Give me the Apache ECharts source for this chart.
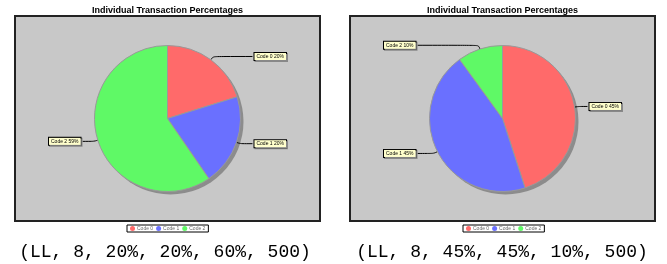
<!DOCTYPE html>
<html>
<head>
<meta charset="utf-8">
<style>
  html, body { margin: 0; padding: 0; background: #fff; }
  #main { width: 667px; height: 264px; }
</style>
<script src="https://cdn.jsdelivr.net/npm/echarts@6/dist/echarts.min.js"></script>
</head>
<body>
<div id="main"></div>
<script>
// slice names and percentages as printed on the labels
const codes = ['Code 0', 'Code 1', 'Code 2'];
const leftValues = [20, 20, 59];
const rightValues = [45, 45, 10];
const chartTitle = 'Individual Transaction Percentages';
const leftCaption = '(LL, 8, 20%, 20%, 60%, 500)';
const rightCaption = '(LL, 8, 45%, 45%, 10%, 500)';

const colors = ['#ff6a6a', '#6a70ff', '#5ff966'];
const boxes = [
  { left: 15, top: 16, width: 305, height: 205 },
  { left: 350, top: 16, width: 305, height: 205 }
];

function toData(values) {
  return values.map(function (v, i) {
    return { name: codes[i], value: v };
  });
}

function pieSeries(values, box) {
  return {
    type: 'pie',
    left: box.left, top: box.top, width: box.width, height: box.height,
    center: ['50%', '50%'],
    radius: 73,
    startAngle: 90,
    clockwise: true,
    animation: false,
    z: 3,
    data: toData(values),
    itemStyle: { borderColor: '#999', borderWidth: 1 },
    label: {
      formatter: '{b} {c}%',
      fontSize: 5,
      fontFamily: 'Liberation Sans',
      color: '#000',
      backgroundColor: '#ffffcc',
      borderColor: '#000',
      borderWidth: 1,
      padding: [1, 2],
      shadowColor: '#888',
      shadowOffsetX: 1,
      shadowOffsetY: 1,
      alignTo: 'edge',
      edgeDistance: 34,
      distanceToLabelLine: 0
    },
    labelLine: {
      length: 4,
      length2: 8,
      smooth: 0.4,
      lineStyle: { color: '#000', width: 1 }
    },
    emphasis: { disabled: true }
  };
}

// offset grey disc behind each pie
function shadowSeries(box) {
  return {
    type: 'pie',
    silent: true,
    left: box.left + 3, top: box.top + 3, width: box.width, height: box.height,
    center: ['50%', '50%'],
    radius: 73,
    z: 2,
    animation: false,
    label: { show: false },
    labelLine: { show: false },
    itemStyle: { color: '#8c8c8c' },
    data: [{ name: 'shadow', value: 1 }],
    emphasis: { disabled: true }
  };
}

function legendFor(left) {
  return {
    left: left, top: 225,
    data: codes,
    icon: 'circle',
    itemWidth: 5, itemHeight: 5,
    itemGap: 3,
    padding: [1, 3],
    backgroundColor: '#fff',
    borderColor: '#000',
    borderWidth: 1,
    borderRadius: 0,
    selectedMode: false,
    itemStyle: { borderWidth: 0 },
    textStyle: { fontSize: 5, color: '#666', fontFamily: 'Liberation Sans', padding: [0, 0, 0, -3] }
  };
}

function textEl(x, y, str, font) {
  return {
    type: 'text', x: x, y: y, z: 10,
    style: { text: str, font: font, fill: '#000', align: 'center', verticalAlign: 'middle' }
  };
}

const graphics = [];
boxes.forEach(function (b) {
  graphics.push({
    type: 'rect', z: -10,
    shape: { x: b.left, y: b.top, width: b.width, height: b.height },
    style: { fill: '#c8c8c8', stroke: '#222', lineWidth: 2 }
  });
  graphics.push(textEl(b.left + b.width / 2, 10.5, chartTitle, 'bold 9px "Liberation Sans"'));
});
graphics.push(textEl(165, 252, leftCaption, '18px "Liberation Mono"'));
graphics.push(textEl(502, 252, rightCaption, '18px "Liberation Mono"'));

const chart = echarts.init(document.getElementById('main'), null, { renderer: 'canvas' });
chart.setOption({
  backgroundColor: '#fff',
  animation: false,
  color: colors,
  legend: [legendFor(127), legendFor(463)],
  graphic: graphics,
  series: [
    shadowSeries(boxes[0]),
    pieSeries(leftValues, boxes[0]),
    shadowSeries(boxes[1]),
    pieSeries(rightValues, boxes[1])
  ]
});
</script>
</body>
</html>
